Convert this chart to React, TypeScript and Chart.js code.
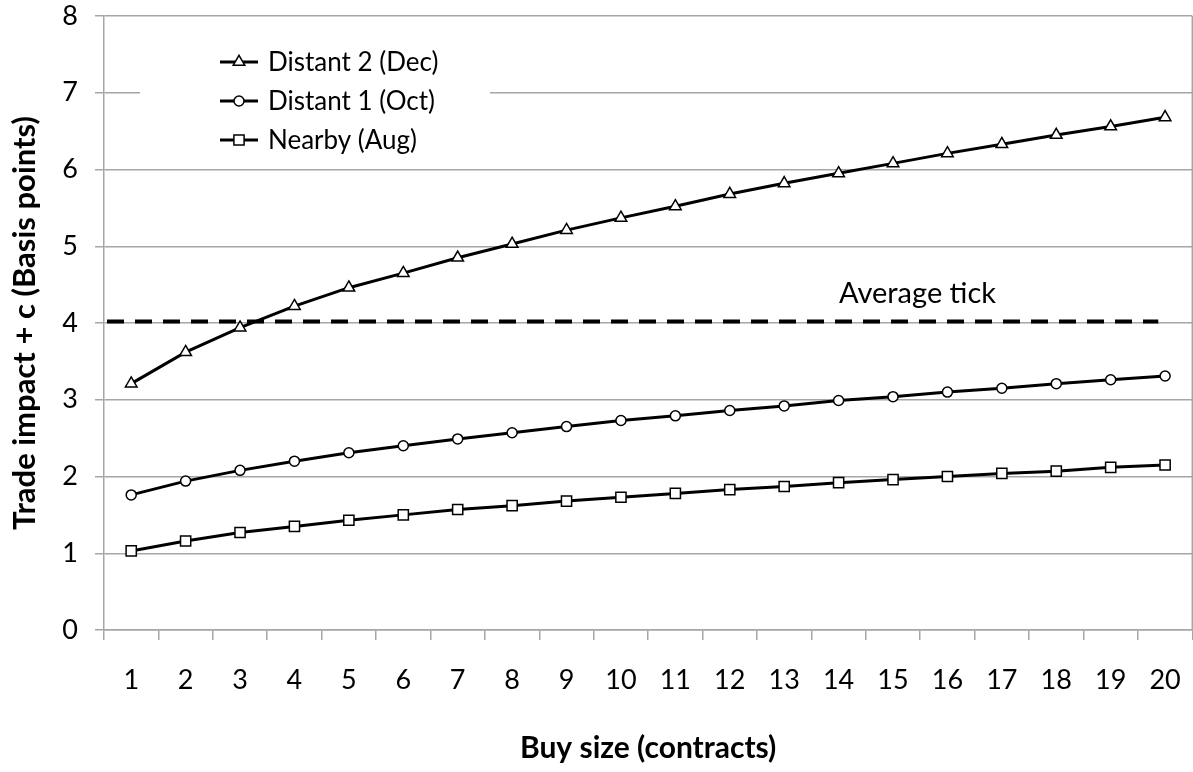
import React, { useEffect, useRef } from 'react';
import { Chart, registerables } from 'chart.js';
import { drawPoint } from 'chart.js/helpers';

Chart.register(...registerables);

const categories = ['1', '2', '3', '4', '5', '6', '7', '8', '9', '10', '11', '12', '13', '14', '15', '16', '17', '18', '19', '20'];
const distant2 = [3.21, 3.62, 3.94, 4.22, 4.46, 4.65, 4.85, 5.03, 5.21, 5.37, 5.52, 5.68, 5.82, 5.95, 6.08, 6.21, 6.33, 6.45, 6.56, 6.68];
const distant1 = [1.76, 1.94, 2.08, 2.2, 2.31, 2.4, 2.49, 2.57, 2.65, 2.73, 2.79, 2.86, 2.92, 2.99, 3.04, 3.1, 3.15, 3.21, 3.26, 3.31];
const nearby = [1.03, 1.16, 1.27, 1.35, 1.43, 1.5, 1.57, 1.62, 1.68, 1.73, 1.78, 1.83, 1.87, 1.92, 1.96, 2.0, 2.04, 2.07, 2.12, 2.15];
const averageTick = 4.02;
const averageSpan = [0.055, 19.375];
const averageLabel = 'Average tick';
const averageLabelAt = 14.95;
const seriesNames = ['Distant 2 (Dec)', 'Distant 1 (Oct)', 'Nearby (Aug)'];
const xTitle = 'Buy size (contracts)';
const yTitle = 'Trade impact + c (Basis points)';
const yMin = 0;
const yMax = 8;
const yStep = 1;

const FONT = 'Lato';
const GRID = '#a6a6a6';

const frameBorder = {
  id: 'frameBorder',
  beforeDatasetsDraw(chart: any) {
    const { ctx, chartArea } = chart;
    ctx.save();
    ctx.strokeStyle = GRID;
    ctx.lineWidth = 1.5;
    ctx.beginPath();
    ctx.moveTo(chartArea.right, chartArea.top);
    ctx.lineTo(chartArea.right, chartArea.bottom);
    ctx.stroke();
    ctx.restore();
  },
};

const insideLegend = {
  id: 'insideLegend',
  afterDatasetsDraw(chart: any) {
    const { ctx } = chart;
    ctx.save();
    ctx.fillStyle = '#ffffff';
    ctx.fillRect(140, 30, 350, 128);
    const items = chart.data.datasets.filter((d: any) => d.inLegend);
    items.forEach((ds: any, i: number) => {
      const y = 62 + i * 39;
      ctx.strokeStyle = '#000';
      ctx.lineWidth = 3;
      ctx.setLineDash([]);
      ctx.beginPath();
      ctx.moveTo(220, y);
      ctx.lineTo(258, y);
      ctx.stroke();
      ctx.fillStyle = '#fff';
      ctx.lineWidth = 1.5;
      drawPoint(ctx, { pointStyle: ds.pointStyle, radius: ds.pointRadius, rotation: 0, borderWidth: 1.5 } as any, 239, y);
      ctx.fillStyle = '#000';
      ctx.font = `26px ${FONT}`;
      ctx.textAlign = 'left';
      ctx.textBaseline = 'middle';
      ctx.fillText(ds.label, 268, y + 1);
    });
    ctx.restore();
  },
};

const averageText = {
  id: 'averageText',
  afterDatasetsDraw(chart: any) {
    const { ctx, scales } = chart;
    const x = scales.x2.getPixelForValue(averageLabelAt);
    const y = scales.y.getPixelForValue(averageTick) - 18;
    ctx.save();
    ctx.fillStyle = '#000';
    ctx.font = `29px ${FONT}`;
    ctx.textAlign = 'center';
    ctx.textBaseline = 'alphabetic';
    ctx.fillText(averageLabel, x, y);
    ctx.restore();
  },
};

export default function App() {
  const canvasRef = useRef<HTMLCanvasElement | null>(null);

  useEffect(() => {
    if (!canvasRef.current) return;
    const lineStyle = {
      borderColor: '#000',
      borderWidth: 3,
      pointBackgroundColor: '#fff',
      pointBorderColor: '#000',
      pointBorderWidth: 1.5,
      tension: 0,
      fill: false,
      inLegend: true,
    };
    const chart = new Chart(canvasRef.current, {
      type: 'line',
      data: {
        labels: categories,
        datasets: [
          {
            label: 'avg',
            data: [
              { x: averageSpan[0], y: averageTick },
              { x: averageSpan[1], y: averageTick },
            ],
            xAxisID: 'x2',
            borderColor: '#000',
            borderWidth: 4,
            borderDash: [17, 11],
            pointRadius: 0,
            fill: false,
          } as any,
          { ...lineStyle, label: seriesNames[0], data: distant2, pointStyle: 'triangle', pointRadius: 6.7 } as any,
          { ...lineStyle, label: seriesNames[1], data: distant1, pointStyle: 'circle', pointRadius: 5 } as any,
          { ...lineStyle, label: seriesNames[2], data: nearby, pointStyle: 'rect', pointRadius: 7.2 } as any,
        ],
      },
      options: {
        animation: false,
        responsive: true,
        maintainAspectRatio: false,
        layout: { padding: { top: 0, right: 1, left: 0, bottom: 0 } },
        plugins: {
          legend: { display: false },
          tooltip: { enabled: false },
        },
        scales: {
          x: {
            type: 'category',
            offset: true,
            grid: { offset: true, drawOnChartArea: false, drawTicks: true, tickLength: 10, color: GRID, lineWidth: 1.5 },
            border: { color: GRID, width: 1.5 },
            ticks: { font: { family: FONT, size: 27, lineHeight: '58.4px' }, color: '#000', padding: 11, maxRotation: 0, autoSkip: false },
            title: { display: true, text: xTitle, color: '#000', font: { family: FONT, size: 30, weight: 'bold' }, padding: { top: 0, bottom: 6 } },
            afterFit(s: any) { s.height = 142; s.paddingLeft = 0; s.paddingRight = 0; },
          },
          x2: { type: 'linear', min: 0, max: categories.length, display: false },
          y: {
            min: yMin,
            max: yMax,
            ticks: { stepSize: yStep, font: { family: FONT, size: 27 }, color: '#000', padding: 17 },
            grid: { color: GRID, lineWidth: 1.5, tickLength: 9 },
            border: { color: GRID, width: 1.5 },
            title: { display: true, text: yTitle, color: '#000', font: { family: FONT, size: 31, weight: 'bold' }, padding: { top: 6, bottom: 0 } },
            afterFit(s: any) { s.width = 104; s.paddingTop = 16; s.paddingBottom = 0; },
          },
        } as any,
      },
      plugins: [frameBorder, insideLegend, averageText],
    });
    (document as any).fonts?.ready?.then(() => chart.update());
    return () => chart.destroy();
  }, []);

  return (
    <div style={{ position: 'absolute', left: 0, top: 0, width: 1193, height: 772, overflow: 'hidden', background: '#fff' }}>
      <div style={{ position: 'relative', width: 1201, height: 772 }}>
        <canvas ref={canvasRef} />
      </div>
    </div>
  );
}
